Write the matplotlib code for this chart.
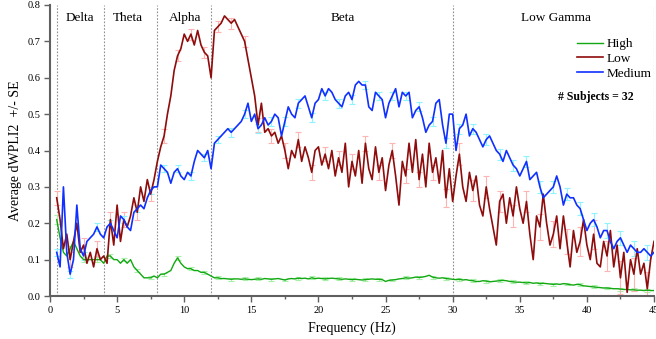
import numpy as np
import matplotlib
matplotlib.use("Agg")
import matplotlib.pyplot as plt
from matplotlib.ticker import MultipleLocator

plt.rcParams['font.family'] = ['Liberation Serif', 'DejaVu Serif']

# frequency grid (Hz), 0.25 Hz resolution from 0.5 to 45
freq = np.arange(0.5, 45.001, 0.25)

high = [0.21, 0.16,
        0.12, 0.11, 0.13, 0.15, 0.13, 0.11, 0.10, 0.10, 0.10, 0.10, 0.10, 0.10,
        0.09, 0.11, 0.11, 0.10, 0.10, 0.09, 0.10, 0.09, 0.10, 0.08, 0.07, 0.06,
        0.05, 0.05, 0.05, 0.055, 0.05, 0.06, 0.06, 0.065, 0.07, 0.09, 0.105, 0.09,
        0.08, 0.075, 0.075, 0.07, 0.07, 0.065, 0.065, 0.06, 0.055, 0.05, 0.05, 0.048,
        0.048, 0.047, 0.046, 0.047, 0.047, 0.046, 0.047, 0.046, 0.045, 0.046, 0.047, 0.046,
        0.048, 0.047, 0.046, 0.047, 0.048, 0.046, 0.044, 0.047, 0.048, 0.047, 0.049, 0.048,
        0.049, 0.047, 0.05, 0.048, 0.049, 0.048, 0.047, 0.048, 0.049, 0.048, 0.047, 0.046,
        0.047, 0.046, 0.045, 0.046, 0.045, 0.044, 0.045, 0.046, 0.047, 0.046, 0.046, 0.045,
        0.04, 0.043, 0.044, 0.045, 0.047, 0.048, 0.05, 0.049, 0.05, 0.052, 0.051, 0.052,
        0.054, 0.057, 0.052, 0.05, 0.049, 0.05, 0.048, 0.047, 0.046, 0.045, 0.046, 0.044,
        0.045, 0.043, 0.042, 0.04, 0.04, 0.042, 0.041, 0.039, 0.04, 0.041, 0.042, 0.043,
        0.042, 0.04, 0.039, 0.038, 0.038, 0.037, 0.036, 0.037, 0.035, 0.036, 0.034, 0.035,
        0.034, 0.033, 0.032, 0.033, 0.032, 0.034, 0.033, 0.031, 0.03, 0.032, 0.031, 0.028,
        0.027, 0.026, 0.025, 0.024, 0.023, 0.022, 0.022, 0.021, 0.02, 0.02, 0.019, 0.018,
        0.018, 0.017, 0.017, 0.016, 0.016, 0.015, 0.016, 0.015,
        0.015]

low = [0.27, 0.21,
       0.13, 0.17, 0.10, 0.15, 0.20, 0.12, 0.14, 0.09, 0.12, 0.08, 0.13, 0.10,
       0.11, 0.09, 0.21, 0.14, 0.25, 0.15, 0.21, 0.19, 0.22, 0.27, 0.23, 0.30,
       0.26, 0.32, 0.28, 0.32, 0.37, 0.41, 0.44, 0.50, 0.55, 0.62, 0.66, 0.68,
       0.72, 0.70, 0.72, 0.69, 0.73, 0.69, 0.67, 0.66, 0.60, 0.73, 0.74, 0.75,
       0.77, 0.76, 0.75, 0.76, 0.74, 0.72, 0.70, 0.65, 0.60, 0.55, 0.47, 0.53,
       0.45, 0.46, 0.44, 0.45, 0.42, 0.44, 0.40, 0.35, 0.40, 0.38, 0.43, 0.37,
       0.41, 0.38, 0.34, 0.40, 0.41, 0.36, 0.39, 0.35, 0.40, 0.33, 0.38, 0.34,
       0.42, 0.30, 0.37, 0.33, 0.40, 0.31, 0.42, 0.35, 0.32, 0.41, 0.34, 0.38,
       0.29, 0.36, 0.40, 0.33, 0.25, 0.37, 0.33, 0.42, 0.34, 0.43, 0.32, 0.39,
       0.30, 0.42, 0.34, 0.38, 0.31, 0.40, 0.27, 0.35, 0.26, 0.33, 0.39, 0.30,
       0.26, 0.34, 0.29, 0.33, 0.25, 0.22, 0.30, 0.24, 0.19, 0.14, 0.26, 0.28,
       0.20, 0.27, 0.22, 0.30, 0.24, 0.20, 0.26, 0.17, 0.10, 0.22, 0.19, 0.28,
       0.20, 0.14, 0.17, 0.22, 0.13, 0.22, 0.15, 0.08, 0.18, 0.12, 0.15, 0.21,
       0.14, 0.10, 0.17, 0.09, 0.08, 0.15, 0.11, 0.18, 0.08, 0.14, 0.05, 0.12,
       0.01, 0.10, 0.06, 0.13, 0.06, 0.09, 0.02, 0.10,
       0.15]

medium = [0.12, 0.08,
          0.30, 0.12, 0.06, 0.10, 0.25, 0.13, 0.11, 0.15, 0.16, 0.17, 0.19, 0.17,
          0.16, 0.19, 0.20, 0.18, 0.16, 0.22, 0.21, 0.19, 0.18, 0.23, 0.24, 0.25,
          0.24, 0.27, 0.29, 0.30, 0.30, 0.36, 0.35, 0.34, 0.31, 0.34, 0.35, 0.33,
          0.32, 0.34, 0.33, 0.37, 0.40, 0.39, 0.38, 0.40, 0.35, 0.42, 0.43, 0.44,
          0.45, 0.46, 0.45, 0.46, 0.47, 0.48, 0.50, 0.53, 0.48, 0.50, 0.46, 0.47,
          0.49, 0.47, 0.48, 0.50, 0.49, 0.44, 0.48, 0.52, 0.50, 0.49, 0.53, 0.54,
          0.55, 0.52, 0.49, 0.53, 0.54, 0.57, 0.55, 0.57, 0.56, 0.54, 0.53, 0.52,
          0.55, 0.56, 0.54, 0.58, 0.59, 0.58, 0.58, 0.52, 0.51, 0.56, 0.55, 0.54,
          0.49, 0.53, 0.55, 0.57, 0.52, 0.56, 0.55, 0.56, 0.49, 0.51, 0.52, 0.49,
          0.45, 0.47, 0.48, 0.53, 0.54, 0.47, 0.42, 0.50, 0.50, 0.40, 0.46, 0.47,
          0.50, 0.44, 0.46, 0.45, 0.43, 0.41, 0.43, 0.44, 0.42, 0.40, 0.39, 0.37,
          0.40, 0.38, 0.36, 0.35, 0.33, 0.35, 0.37, 0.32, 0.33, 0.34, 0.30, 0.27,
          0.28, 0.29, 0.30, 0.33, 0.30, 0.25, 0.28, 0.27, 0.27, 0.25, 0.24, 0.21,
          0.18, 0.20, 0.21, 0.19, 0.16, 0.18, 0.18, 0.15, 0.13, 0.15, 0.16, 0.14,
          0.12, 0.14, 0.13, 0.12, 0.12, 0.13, 0.12, 0.11,
          0.12]

# standard errors at every 4th sample (1 Hz spacing starting at 0.5 Hz)
se_high = [0.012, 0.008, 0.006, 0.006, 0.005, 0.005, 0.005, 0.004, 0.004, 0.005,
           0.004, 0.004, 0.004, 0.004, 0.004, 0.004, 0.004, 0.004, 0.004, 0.004,
           0.004, 0.004, 0.004, 0.004, 0.004, 0.004, 0.004, 0.004, 0.004, 0.004,
           0.004, 0.004, 0.004, 0.004, 0.004, 0.004, 0.004, 0.004, 0.004, 0.004,
           0.004, 0.004, 0.004, 0.004, 0.004]
se_low = [0.02, 0.02, 0.02, 0.02, 0.02, 0.02, 0.02, 0.02, 0.02, 0.015,
          0.015, 0.015, 0.015, 0.015, 0.015, 0.02, 0.02, 0.02, 0.02, 0.02,
          0.02, 0.02, 0.02, 0.02, 0.02, 0.02, 0.02, 0.02, 0.02, 0.025,
          0.03, 0.03, 0.03, 0.03, 0.03, 0.03, 0.035, 0.035, 0.035, 0.04,
          0.04, 0.04, 0.045, 0.045, 0.045]
se_medium = [0.01, 0.01, 0.01, 0.01, 0.01, 0.01, 0.01, 0.01, 0.01, 0.01,
             0.01, 0.01, 0.01, 0.012, 0.012, 0.012, 0.012, 0.012, 0.012, 0.012,
             0.012, 0.012, 0.012, 0.012, 0.012, 0.012, 0.012, 0.012, 0.012, 0.014,
             0.014, 0.014, 0.015, 0.015, 0.015, 0.015, 0.016, 0.016, 0.017, 0.018,
             0.018, 0.02, 0.02, 0.02, 0.02]

band_edges = [0.5, 4, 8, 12, 30, 45]
band_names = ["Delta", "Theta", "Alpha", "Beta", "Low Gamma"]
band_label_x = [2.25, 5.8, 10.1, 21.8, 37.7]

fig = plt.figure(figsize=(6.56, 3.39), dpi=100)
ax = fig.add_axes([50/656, 43/339, 604/656, 291/339])

ebi = np.arange(0, len(freq), 4)
series = [
    ("High", high, se_high, "#12a812", "#a8f0a8", 1.0),
    ("Low", low, se_low, "#8e0c0c", "#ffb4b4", 1.2),
    ("Medium", medium, se_medium, "#1030ff", "#8ef4ff", 1.2),
]
for name, vals, se, col, ecol, lw in series:
    v = np.array(vals)
    ax.errorbar(freq[ebi], v[ebi], yerr=se, fmt='none', ecolor=ecol,
                elinewidth=0.8, capsize=2.5, capthick=0.8, zorder=1)
for name, vals, se, col, ecol, lw in series:
    ax.plot(freq, vals, color=col, lw=lw, label=name, zorder=3)

for e in band_edges:
    ax.axvline(e, color="#909090", ls=(0, (1.5, 1.5)), lw=0.8, zorder=0)

for name, bx in zip(band_names, band_label_x):
    ax.text(bx, 0.763, name, ha='center', va='center', fontsize=9.5)

ax.set_xlim(0, 45)
ax.set_ylim(0, 0.8)
ax.xaxis.set_major_locator(MultipleLocator(5))
ax.xaxis.set_minor_locator(MultipleLocator(2.5))
ax.yaxis.set_major_locator(MultipleLocator(0.1))
ax.yaxis.set_major_formatter(matplotlib.ticker.FormatStrFormatter('%.1f'))

for s in ['top', 'right']:
    ax.spines[s].set_visible(False)
for s in ['left', 'bottom']:
    ax.spines[s].set_color('#606060')
    ax.spines[s].set_linewidth(1.5)

ax.tick_params(axis='both', which='major', direction='out', length=4,
               width=1.0, color='#606060', labelsize=7.5, pad=3)
ax.tick_params(axis='x', which='minor', direction='out', length=2.5,
               width=1.0, color='#606060')

ax.set_xlabel("Frequency (Hz)", fontsize=10, labelpad=5)
ax.set_ylabel("Average dWPLI2  +/- SE", fontsize=10, labelpad=4)

leg = ax.legend(loc='upper left', bbox_to_anchor=(0.863, 0.905), frameon=False,
                fontsize=9.5, handlelength=2.0, handletextpad=0.3,
                labelspacing=0.2, borderaxespad=0)
ax.text(0.903, 0.683, "# Subjects = 32", transform=ax.transAxes,
        ha='center', va='center', fontsize=8.5, fontweight='bold')

fig.savefig("out.png", dpi=100)
